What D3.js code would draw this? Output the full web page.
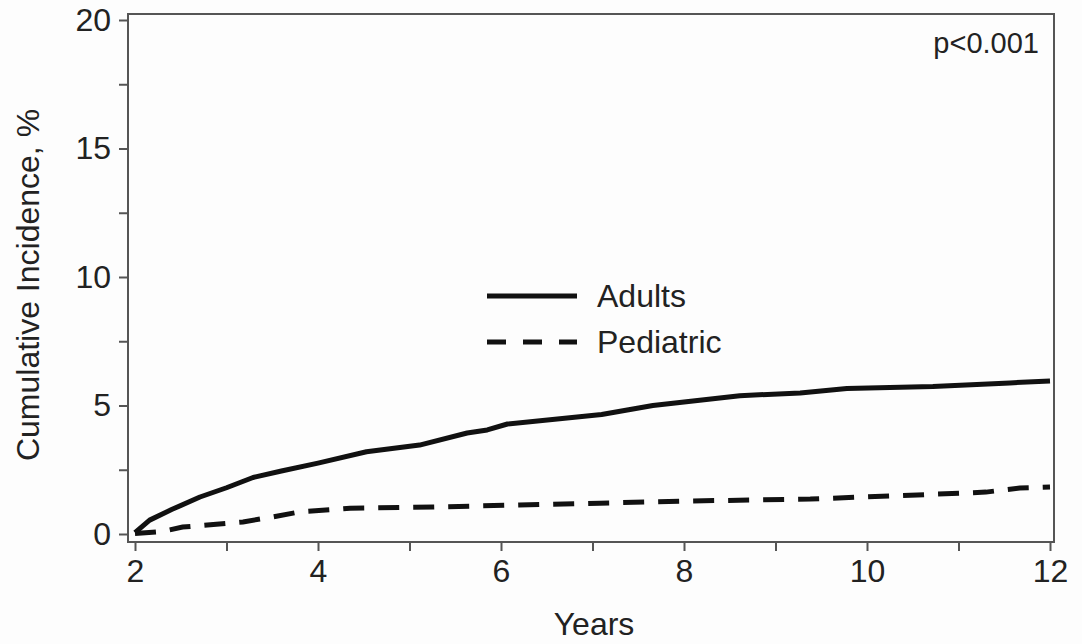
<!DOCTYPE html>
<html>
<head>
<meta charset="utf-8">
<script src="https://cdn.jsdelivr.net/npm/d3@7"></script>
<style>
  body { margin: 0; background: #fdfdfd; }
  text { font-family: "Liberation Sans", Arial, sans-serif; fill: #222; }
</style>
</head>
<body>
<svg width="1082" height="644"></svg>
<script>
// cumulative incidence
const adultYears = [2.0, 2.16, 2.4, 2.71, 3.0, 3.29, 3.6, 4.0, 4.53, 5.11, 5.63, 5.85, 6.07, 7.1, 7.66, 8.61, 9.27, 9.78, 10.72, 11.56, 12.0];
const adultVals  = [0.05, 0.54, 0.95, 1.44, 1.8, 2.2, 2.45, 2.76, 3.2, 3.46, 3.93, 4.05, 4.28, 4.65, 5.0, 5.38, 5.49, 5.66, 5.74, 5.88, 5.95];
const pedYears = [2.0, 2.3, 2.52, 3.18, 3.5, 3.8, 4.35, 5.26, 6.2, 7.08, 8.0, 9.38, 10.55, 11.3, 11.67, 12.0];
const pedVals  = [0.02, 0.1, 0.27, 0.47, 0.66, 0.86, 1.0, 1.05, 1.13, 1.2, 1.28, 1.36, 1.52, 1.63, 1.79, 1.83];
const xMajor = [2, 4, 6, 8, 10, 12];
const xMinor = [3, 5, 7, 9, 11];
const yMajor = [0, 5, 10, 15, 20];
const yMinor = [2.5, 7.5, 12.5, 17.5];

const svg = d3.select("svg");
const frame = { left: 128, top: 14, right: 1054, bottom: 542 };

const x = d3.scaleLinear().domain([2, 12]).range([135, 1050]);
const y = d3.scaleLinear().domain([0, 20]).range([534, 20]);

const axisColor = "#555";

// frame
svg.append("rect")
    .attr("x", frame.left).attr("y", frame.top)
    .attr("width", frame.right - frame.left).attr("height", frame.bottom - frame.top)
    .attr("fill", "none").attr("stroke", axisColor).attr("stroke-width", 2);

// x axis
const gx = svg.append("g").attr("transform", "translate(0," + frame.bottom + ")")
    .call(d3.axisBottom(x).tickValues(xMajor).tickSize(9).tickPadding(8).tickFormat(d3.format("d")));
svg.append("g").attr("transform", "translate(0," + frame.bottom + ")")
    .call(d3.axisBottom(x).tickValues(xMinor).tickSize(9).tickFormat(""));

// y axis
const gy = svg.append("g").attr("transform", "translate(" + frame.left + ",0)")
    .call(d3.axisLeft(y).tickValues(yMajor).tickSize(9).tickPadding(8).tickFormat(d3.format("d")));
svg.append("g").attr("transform", "translate(" + frame.left + ",0)")
    .call(d3.axisLeft(y).tickValues(yMinor).tickSize(9).tickFormat(""));

svg.selectAll(".domain").remove();
svg.selectAll(".tick line").attr("stroke", axisColor).attr("stroke-width", 2);
svg.selectAll(".tick text").attr("font-size", 32).attr("fill", "#222");
gx.selectAll(".tick text").attr("dy", "0.72em");

// axis titles
svg.append("text").attr("x", 594).attr("y", 635)
    .attr("text-anchor", "middle").attr("font-size", 32).text("Years");
svg.append("text").attr("transform", "translate(39,285) rotate(-90)")
    .attr("text-anchor", "middle").attr("font-size", 32).text("Cumulative Incidence, %");

// p value
svg.append("text").attr("x", 1039).attr("y", 53)
    .attr("text-anchor", "end").attr("font-size", 29).text("p<0.001");

// curves
const line = d3.line().x(d => x(d[0])).y(d => y(d[1]));
const adults = d3.zip(adultYears, adultVals);
const ped = d3.zip(pedYears, pedVals);

svg.append("path").datum(adults).attr("d", line)
    .attr("fill", "none").attr("stroke", "#111").attr("stroke-width", 5)
    .attr("stroke-linejoin", "round");
svg.append("path").datum(ped).attr("d", line)
    .attr("fill", "none").attr("stroke", "#111").attr("stroke-width", 5)
    .attr("stroke-dasharray", "21,14");

// legend
const legend = [
    { label: "Adults", dash: null, y: 296 },
    { label: "Pediatric", dash: "19,17", y: 342 }
];
legend.forEach(d => {
    svg.append("line").attr("x1", 487).attr("x2", 577).attr("y1", d.y).attr("y2", d.y)
        .attr("stroke", "#111").attr("stroke-width", 5)
        .attr("stroke-dasharray", d.dash);
    svg.append("text").attr("x", 597).attr("y", d.y + 11)
        .attr("font-size", 32).text(d.label);
});
</script>
</body>
</html>
